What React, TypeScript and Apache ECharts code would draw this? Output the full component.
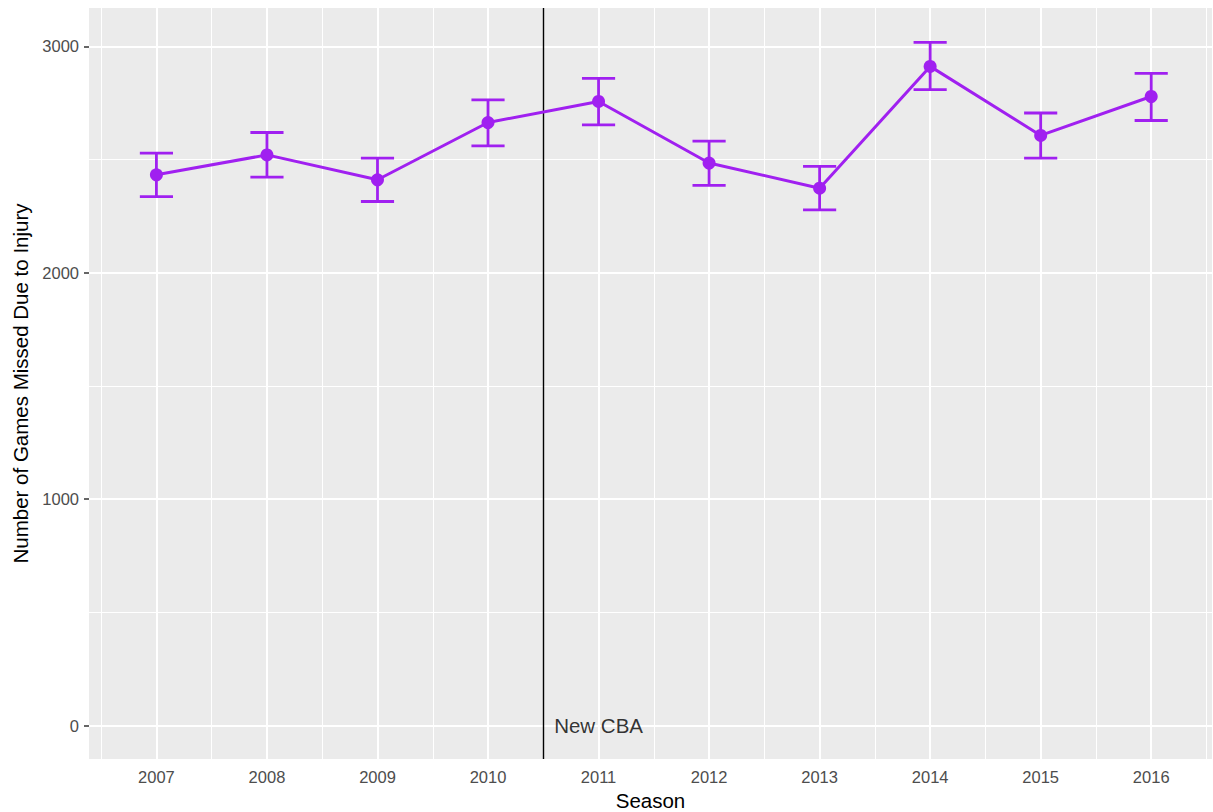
import React, { useEffect, useRef } from "react";
import * as echarts from "echarts";

const years = [2007, 2008, 2009, 2010, 2011, 2012, 2013, 2014, 2015, 2016];
const missed = [2433, 2521, 2411, 2664, 2757, 2485, 2374, 2912, 2607, 2779];
const lower = [2337, 2423, 2315, 2561, 2654, 2386, 2278, 2809, 2507, 2673];
const upper = [2529, 2620, 2507, 2764, 2859, 2582, 2470, 3018, 2706, 2881];

const yTicks = [0, 1000, 2000, 3000];
const yMinor = [500, 1500, 2500];
const xMinor = [2006.5, 2007.5, 2008.5, 2009.5, 2010.5, 2011.5, 2012.5, 2013.5, 2014.5, 2015.5, 2016.5];

const cbaYear = 2010.5;
const cbaLabel = { x: 2011, y: 0, text: "New CBA" };

const X_MIN = 2006.39;
const X_MAX = 2016.55;
const Y_MIN = -148;
const Y_MAX = 3170;

const PURPLE = "#A020F0";
const FONT = "'Liberation Sans', Arial, sans-serif";

export default function App() {
  const ref = useRef<HTMLDivElement>(null);

  useEffect(() => {
    if (!ref.current) return;
    const chart = echarts.init(ref.current, null, { renderer: "svg" });

    const gridLines = [
      ...years.map((v) => ({ xAxis: v, lineStyle: { width: 2 } })),
      ...xMinor.map((v) => ({ xAxis: v, lineStyle: { width: 1 } })),
      ...yTicks.map((v) => ({ yAxis: v, lineStyle: { width: 2 } })),
      ...yMinor.map((v) => ({ yAxis: v, lineStyle: { width: 1 } })),
    ];

    const option: any = {
      animation: false,
      grid: {
        left: 89,
        top: 8,
        right: 1,
        bottom: 53,
        show: true,
        backgroundColor: "#EBEBEB",
        borderWidth: 0,
        containLabel: false,
        outerBoundsMode: "none",
      },
      xAxis: {
        type: "value",
        min: X_MIN,
        max: X_MAX,
        name: "Season",
        nameLocation: "middle",
        nameGap: 28,
        nameTextStyle: { fontFamily: FONT, fontSize: 20.5, color: "#000000" },
        axisLine: { show: false },
        splitLine: { show: false },
        axisTick: {
          show: true,
          length: 5,
          customValues: years,
          lineStyle: { color: "#333333", width: 1.5 },
        },
        axisLabel: {
          customValues: years,
          margin: 9,
          fontFamily: FONT,
          fontSize: 16.5,
          color: "#4D4D4D",
          formatter: (v: number) => String(Math.round(v)),
        },
      },
      yAxis: {
        type: "value",
        min: Y_MIN,
        max: Y_MAX,
        name: "Number of Games Missed Due to Injury",
        nameLocation: "middle",
        nameRotate: 90,
        nameGap: 57,
        nameTextStyle: { fontFamily: FONT, fontSize: 20.5, color: "#000000" },
        axisLine: { show: false },
        splitLine: { show: false },
        axisTick: {
          show: true,
          length: 5,
          customValues: yTicks,
          lineStyle: { color: "#333333", width: 1.5 },
        },
        axisLabel: {
          customValues: yTicks,
          margin: 10,
          fontFamily: FONT,
          fontSize: 16.5,
          color: "#4D4D4D",
          formatter: (v: number) => String(Math.round(v)),
        },
      },
      series: [
        {
          type: "line",
          name: "grid",
          data: [],
          z: 1,
          silent: true,
          markLine: {
            z: 1,
            silent: true,
            symbol: ["none", "none"],
            label: { show: false },
            lineStyle: { color: "#FFFFFF", type: "solid" },
            emphasis: { disabled: true },
            data: gridLines,
          },
        },
        {
          type: "line",
          name: "cba",
          data: [],
          z: 3,
          silent: true,
          markLine: {
            z: 3,
            silent: true,
            symbol: ["none", "none"],
            label: { show: false },
            lineStyle: { color: "#000000", type: "solid", width: 1.4 },
            emphasis: { disabled: true },
            data: [{ xAxis: cbaYear }],
          },
        },
        {
          type: "custom",
          name: "errorbars",
          z: 4,
          silent: true,
          data: years.map((y, i) => [y, lower[i], upper[i]]),
          renderItem: (params: any, api: any) => {
            const x = api.value(0);
            const lo = api.value(1);
            const hi = api.value(2);
            const pLo = api.coord([x, lo]);
            const pHi = api.coord([x, hi]);
            const pL = api.coord([x - 0.15, lo]);
            const pR = api.coord([x + 0.15, lo]);
            const hw = (pR[0] - pL[0]) / 2;
            const style = { stroke: PURPLE, lineWidth: 2.8 };
            return {
              type: "group",
              children: [
                { type: "line", shape: { x1: pLo[0], y1: pLo[1], x2: pHi[0], y2: pHi[1] }, style },
                { type: "line", shape: { x1: pLo[0] - hw, y1: pLo[1], x2: pLo[0] + hw, y2: pLo[1] }, style },
                { type: "line", shape: { x1: pHi[0] - hw, y1: pHi[1], x2: pHi[0] + hw, y2: pHi[1] }, style },
              ],
            };
          },
        },
        {
          type: "line",
          name: "missed",
          z: 5,
          data: years.map((y, i) => [y, missed[i]]),
          lineStyle: { color: PURPLE, width: 3 },
          itemStyle: { color: PURPLE },
          symbol: "circle",
          symbolSize: 13,
          showSymbol: true,
        },
        {
          type: "scatter",
          name: "label",
          z: 6,
          silent: true,
          data: [[cbaLabel.x, cbaLabel.y]],
          symbol: "circle",
          symbolSize: 1,
          itemStyle: { color: "rgba(0,0,0,0)" },
          label: {
            show: true,
            position: "inside",
            formatter: cbaLabel.text,
            fontFamily: FONT,
            fontSize: 20.5,
            color: "#000000",
          },
        },
      ],
    };

    chart.setOption(option);
    return () => chart.dispose();
  }, []);

  return (
    <div
      ref={ref}
      style={{ position: "fixed", left: 0, top: 0, width: 1213, height: 812, background: "#FFFFFF" }}
    />
  );
}
